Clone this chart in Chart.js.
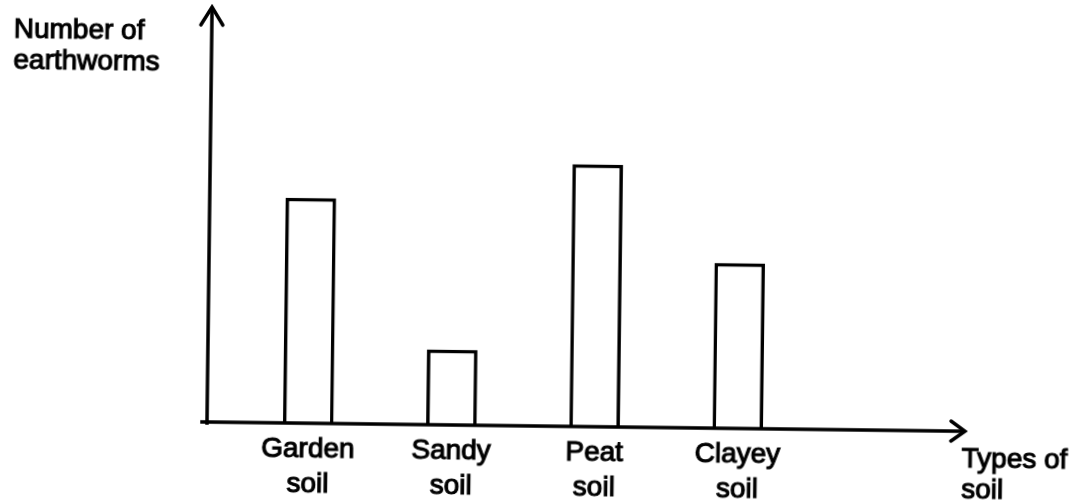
<!DOCTYPE html>
<html><head><meta charset="utf-8">
<script src="https://cdn.jsdelivr.net/npm/chart.js@4.4.1/dist/chart.umd.min.js"></script>
<style>
html,body{margin:0;padding:0;background:#fff;overflow:hidden;}
#wrap{position:relative;width:1077px;height:504px;transform-origin:207px 422px;transform:rotate(0.7deg);}
canvas{position:absolute;left:0;top:0;}
.lbl{position:absolute;font-family:"Liberation Sans",Arial,sans-serif;font-size:28px;line-height:31px;color:#000;-webkit-text-stroke:1.1px #000;white-space:nowrap;}
</style></head>
<body>
<div id="wrap">
<canvas id="c" width="1077" height="504"></canvas>
<div class="lbl" style="left:9px;top:15px;">Number of<br>earthworms</div>
<div class="lbl" style="left:962px;top:433px;">Types of<br>soil</div>
</div>
<script>
// ---- data ----
const categories = [["Garden","soil"],["Sandy","soil"],["Peat","soil"],["Clayey","soil"]];
const earthworms = [22.5, 7.5, 26.2, 16.5];
const yMin = 0;
const yMax = 40;

// ---- axis drawing (style) ----
const AXIS_X = 207, X_START = 202, X_END = 965, Y_TIP = 7;
const axisArrows = {
  id: 'axisArrows',
  afterDatasetsDraw(chart) {
    const ctx = chart.ctx;
    const y0 = chart.scales.y.getPixelForValue(yMin);
    ctx.save();
    ctx.strokeStyle = '#000';
    ctx.lineWidth = 3.5;
    ctx.lineCap = 'square';
    ctx.lineJoin = 'miter';
    ctx.beginPath();
    ctx.moveTo(AXIS_X, y0 + 1); ctx.lineTo(AXIS_X, Y_TIP + 2);
    ctx.moveTo(X_START, y0); ctx.lineTo(X_END - 2, y0);
    ctx.stroke();
    ctx.lineCap = 'round';
    ctx.beginPath();
    ctx.moveTo(AXIS_X - 11, Y_TIP + 18); ctx.lineTo(AXIS_X, Y_TIP); ctx.lineTo(AXIS_X + 11, Y_TIP + 18);
    ctx.moveTo(X_END - 14, y0 - 10); ctx.lineTo(X_END, y0); ctx.lineTo(X_END - 14, y0 + 10);
    ctx.stroke();
    ctx.restore();
  }
};

new Chart(document.getElementById('c'), {
  type: 'bar',
  data: {
    labels: categories,
    datasets: [{
      data: earthworms,
      backgroundColor: '#ffffff',
      borderColor: '#000000',
      borderWidth: 3.5,
      barThickness: 50
    }]
  },
  options: {
    responsive: false,
    animation: false,
    devicePixelRatio: 1,
    layout: { padding: { left: 236.6, right: 267.6, top: 22, bottom: 0 } },
    plugins: { legend: { display: false }, tooltip: { enabled: false }, title: { display: false } },
    scales: {
      x: {
        offset: true,
        grid: { display: false, drawTicks: false },
        border: { display: false },
        ticks: {
          color: '#000',
          padding: 8.5,
          maxRotation: 0,
          autoSkip: false,
          font: { family: '"Liberation Sans", Arial, sans-serif', size: 28, lineHeight: 1.25 },
          textStrokeColor: '#000',
          textStrokeWidth: 1.1
        },
        afterFit(scale) { scale.height = 82; }
      },
      y: {
        display: false,
        min: yMin,
        max: yMax
      }
    }
  },
  plugins: [axisArrows]
});
</script>
</body></html>
